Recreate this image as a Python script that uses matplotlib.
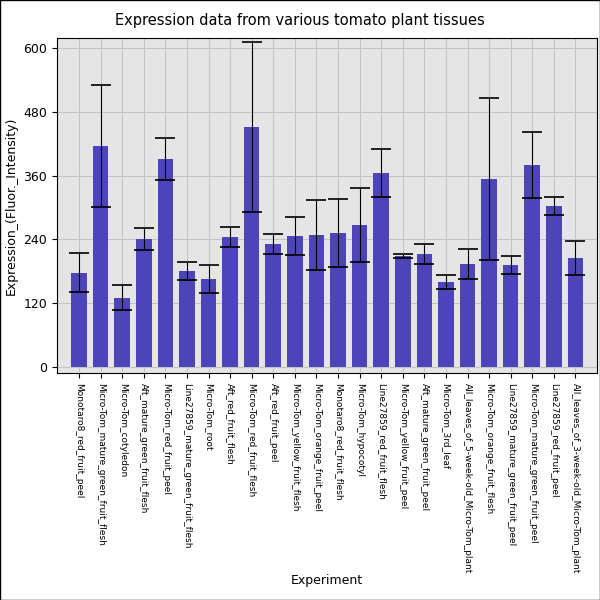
import numpy as np
import matplotlib.pyplot as plt

labels = ["Monotaro8_red_fruit_peel", "Micro-Tom_mature_green_fruit_flesh", "Micro-Tom_cotyledon",
          "Aft_mature_green_fruit_flesh", "Micro-Tom_red_fruit_peel", "Line27859_mature_green_fruit_flesh",
          "Micro-Tom_root", "Aft_red_fruit_flesh", "Micro-Tom_red_fruit_flesh", "Aft_red_fruit_peel",
          "Micro-Tom_yellow_fruit_flesh", "Micro-Tom_orange_fruit_peel", "Monotaro8_red_fruit_flesh",
          "Micro-Tom_hypocotyl", "Line27859_red_fruit_flesh", "Micro-Tom_yellow_fruit_peel",
          "Aft_mature_green_fruit_peel", "Micro-Tom_3rd_leaf", "All_leaves_of_5-week-old_Micro-Tom_plant",
          "Micro-Tom_orange_fruit_flesh", "Line27859_mature_green_fruit_peel", "Micro-Tom_mature_green_fruit_peel",
          "Line27859_red_fruit_peel", "All_leaves_of_3-week-old_Micro-Tom_plant"]
values = [177, 415, 130, 241, 391, 180, 165, 244, 451, 231, 246, 248, 252, 267, 365, 209,
          212, 160, 194, 353, 192, 380, 303, 205]
errors = [37, 115, 24, 21, 39, 17, 27, 19, 160, 18, 35, 65, 64, 70, 45, 4,
          19, 13, 28, 152, 17, 62, 17, 32]

fig = plt.figure(figsize=(6, 6), dpi=100)
ax = fig.add_axes([0.095, 0.378, 0.9, 0.558])
ax.set_facecolor('#e5e5e5')
x = np.arange(len(labels))
ax.bar(x, values, width=0.72, color='#4c44b8', zorder=2)
ax.errorbar(x, values, yerr=errors, fmt='none', ecolor='black', elinewidth=0.8, capsize=7, capthick=1.2, zorder=3)
ax.set_xlim(-1.02, 24.0)
ax.set_ylim(-12, 618)
ax.set_yticks([0, 120, 240, 360, 480, 600])
ax.tick_params(axis='y', labelsize=9)
ax.set_xticks(x)
ax.set_xticklabels(labels, rotation=270, fontsize=6.5)
ax.grid(color='#c4c4c4', linewidth=0.8, zorder=0)
ax.set_axisbelow(True)
ax.set_xlabel("Experiment", fontsize=9)
ax.set_ylabel("Expression_(Fluor._Intensity)", fontsize=9)
fig.suptitle("Expression data from various tomato plant tissues", fontsize=10.5, y=0.978)
fig.patches.append(plt.Rectangle((0, 0), 1, 1, transform=fig.transFigure, fill=False, edgecolor='black', linewidth=1))
ax.xaxis.set_label_coords(0.5, -0.6)
fig.savefig("out.png")
